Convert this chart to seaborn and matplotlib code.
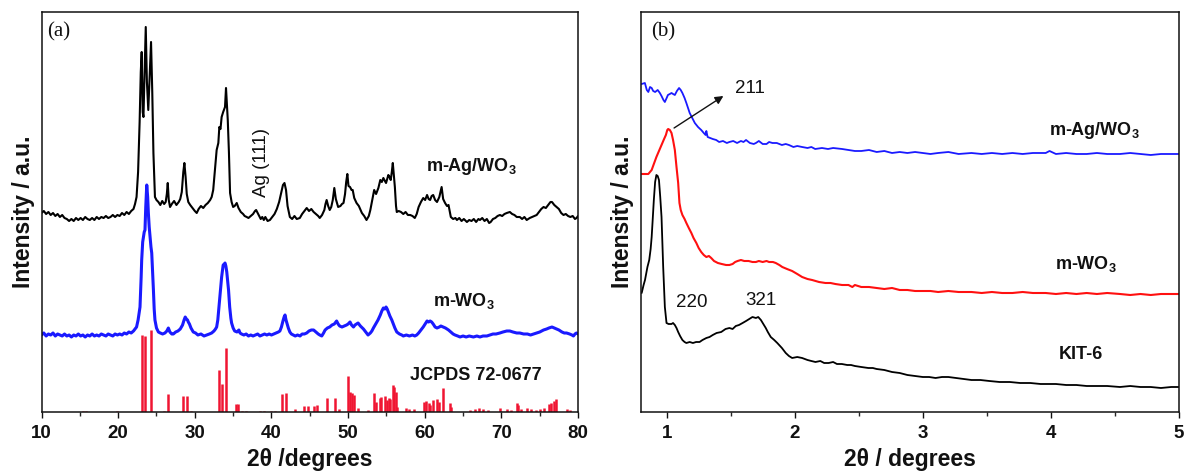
import numpy as np
import pandas as pd
import matplotlib
matplotlib.use("Agg")
import matplotlib.pyplot as plt
from matplotlib.ticker import MultipleLocator
import seaborn as sns

# ---------------- (a) wide-angle XRD ----------------
ag_wo3_tt = [10.0, 10.3, 10.6, 10.9, 11.2, 11.5, 11.8, 12.1, 12.4, 12.7, 13.0, 13.3, 13.6, 13.9, 14.2, 14.5,
             14.8, 15.1, 15.4, 15.7, 16.0, 16.3, 16.6, 16.9, 17.2, 17.5, 17.8, 18.1, 18.4, 18.7, 19.0, 19.3,
             19.6, 19.9, 20.2, 20.5, 20.8, 21.1, 21.4, 21.7, 22.0, 22.2, 22.4, 22.6, 22.8, 22.95, 23.07, 23.2,
             23.3, 23.45, 23.6, 23.75, 23.93, 24.1, 24.29, 24.45, 24.6, 24.8, 25.0, 25.25, 25.5, 25.75, 26.0,
             26.2, 26.35, 26.47, 26.6, 26.77, 27.0, 27.3, 27.6, 27.9, 28.1, 28.3, 28.5, 28.64, 28.8, 28.95,
             29.15, 29.4, 29.7, 30.0, 30.25, 30.5, 30.8, 31.1, 31.4, 31.7, 32.0, 32.2, 32.4, 32.6, 32.85, 33.07,
             33.2, 33.35, 33.5, 33.7, 33.94, 34.07, 34.2, 34.3, 34.45, 34.6, 34.8, 35.0, 35.2, 35.47, 35.7,
             36.0, 36.3, 36.5, 36.77, 37.0, 37.3, 37.6, 37.85, 38.0, 38.2, 38.4, 38.6, 38.8, 39.0, 39.2, 39.5,
             39.8, 40.1, 40.4, 40.7, 41.0, 41.3, 41.5, 41.7, 41.9, 42.1, 42.4, 42.7, 43.0, 43.3, 43.7, 44.0,
             44.3, 44.6, 44.9, 45.2, 45.5, 45.8, 46.1, 46.3, 46.6, 46.9, 47.05, 47.2, 47.4, 47.6, 47.8, 48.0,
             48.2, 48.4, 48.7, 49.0, 49.2, 49.4, 49.6, 49.75, 49.9, 50.05, 50.25, 50.45, 50.6, 50.8, 51.1,
             51.4, 51.8, 52.1, 52.4, 52.7, 52.9, 53.1, 53.4, 53.65, 53.95, 54.2, 54.4, 54.6, 54.8, 54.95, 55.1,
             55.25, 55.4, 55.56, 55.7, 55.83, 55.95, 56.1, 56.25, 56.35, 56.6, 56.9, 57.2, 57.5, 57.8, 58.1,
             58.4, 58.7, 58.95, 59.2, 59.5, 59.8, 60.05, 60.3, 60.5, 60.7, 60.9, 61.1, 61.35, 61.6, 61.9, 62.05,
             62.2, 62.4, 62.65, 62.9, 63.1, 63.4, 63.7, 64.0, 64.2, 64.5, 64.8, 65.1, 65.5, 65.8, 66.1, 66.4,
             66.7, 67.0, 67.2, 67.5, 67.8, 68.1, 68.4, 68.6, 68.9, 69.2, 69.5, 69.8, 70.1, 70.4, 70.7, 71.1,
             71.4, 71.7, 72.0, 72.4, 72.7, 73.0, 73.3, 73.7, 74.0, 74.3, 74.6, 74.9, 75.2, 75.5, 75.8, 76.1,
             76.4, 76.6, 76.9, 77.2, 77.5, 77.8, 78.1, 78.4, 78.7, 79.0, 79.3, 79.6, 79.8, 80.0]
ag_wo3_int = [199, 201, 198, 200, 197, 199, 196, 198, 195, 197, 194, 193, 191, 193, 191, 194,
              192, 194, 192, 195, 193, 192, 194, 192, 195, 193, 195, 194, 196, 194, 195, 197,
              195, 197, 196, 199, 197, 200, 198, 201, 203, 208, 215, 240, 290, 340, 360, 300,
              295, 340, 385, 330, 302, 335, 370, 320, 259, 215, 212, 210, 207, 211, 208,
              210, 218, 229, 212, 205, 208, 211, 207, 210, 213, 220, 240, 249, 235, 218,
              210, 207, 204, 201, 199, 203, 206, 204, 207, 209, 212, 215, 222, 240, 262, 269,
              285, 283, 295, 300, 305, 324, 305, 292, 260, 219, 210, 205, 206, 209, 204,
              200, 198, 196, 195, 194, 196, 198, 201, 202, 199, 196, 193, 195, 192, 195, 191,
              192, 195, 198, 203, 210, 220, 227, 229, 222, 206, 195, 193, 196, 193, 194, 198,
              201, 204, 201, 203, 200, 198, 196, 194, 197, 202, 208, 212, 206, 202, 205, 212,
              224, 213, 205, 206, 208, 209, 218, 230, 238, 226, 225, 222, 222, 214, 209,
              206, 199, 196, 192, 196, 202, 210, 222, 218, 224, 232, 230, 234, 231, 229, 233,
              237, 235, 232, 240, 249, 238, 225, 206, 200, 201, 200, 198, 200, 197, 197,
              196, 194, 198, 205, 210, 214, 212, 217, 213, 212, 216, 217, 212, 210, 215, 220,
              225, 213, 209, 206, 207, 195, 193, 194, 192, 194, 191, 193, 190, 192, 191, 193,
              190, 193, 192, 194, 191, 193, 189, 190, 193, 194, 196, 197, 196, 198, 199, 200,
              198, 197, 195, 195, 193, 195, 192, 194, 195, 196, 197, 200, 203, 205, 204, 207,
              210, 210, 207, 205, 203, 199, 197, 198, 196, 195, 196, 193, 194, 196]

wo3_tt = [10.0, 10.3, 10.6, 10.9, 11.2, 11.5, 11.8, 12.1, 12.4, 12.7, 13.0, 13.3, 13.6, 13.9, 14.2, 14.5,
          14.8, 15.1, 15.4, 15.7, 16.0, 16.3, 16.6, 16.9, 17.2, 17.5, 17.8, 18.1, 18.4, 18.7, 19.0, 19.3,
          19.6, 19.9, 20.2, 20.5, 20.8, 21.1, 21.4, 21.7, 22.0, 22.2, 22.4, 22.6, 22.85, 23.0, 23.07, 23.2,
          23.3, 23.4, 23.5, 23.6, 23.73, 23.85, 23.94, 24.05, 24.16, 24.28, 24.38, 24.5, 24.6, 24.7, 24.8,
          25.0, 25.25, 25.5, 25.8, 26.1, 26.35, 26.55, 26.75, 27.0, 27.2, 27.5, 27.8, 28.1, 28.4, 28.6,
          28.75, 28.9, 29.05, 29.15, 29.3, 29.5, 29.8, 30.1, 30.4, 30.8, 31.2, 31.55, 31.9, 32.2, 32.5,
          32.7, 32.85, 33.0, 33.15, 33.3, 33.5, 33.7, 33.85, 33.94, 34.05, 34.17, 34.3, 34.4, 34.55, 34.7,
          34.8, 35.0, 35.2, 35.5, 35.75, 35.9, 36.1, 36.4, 36.7, 37.0, 37.3, 37.6, 37.9, 38.2, 38.5, 38.8,
          39.1, 39.4, 39.7, 40.0, 40.3, 40.6, 40.9, 41.1, 41.3, 41.5, 41.65, 41.77, 41.9, 42.05, 42.2, 42.4,
          42.6, 42.85, 43.1, 43.4, 43.73, 44.0, 44.3, 44.6, 44.9, 45.2, 45.5, 45.8, 46.1, 46.3, 46.56, 46.8,
          47.0, 47.3, 47.6, 47.9, 48.2, 48.5, 48.7, 48.9, 49.2, 49.5, 49.8, 50.0, 50.25, 50.45, 50.7, 50.9,
          51.1, 51.3, 51.6, 52.0, 52.3, 52.6, 52.9, 53.1, 53.3, 53.6, 53.9, 54.2, 54.4, 54.6, 54.8, 54.95,
          55.1, 55.25, 55.45, 55.7, 55.9, 56.1, 56.35, 56.7, 57.0, 57.2, 57.6, 58.0, 58.4, 58.7, 58.95, 59.2,
          59.5, 59.8, 60.05, 60.3, 60.5, 60.7, 60.9, 61.1, 61.35, 61.6, 61.9, 62.1, 62.4, 62.7, 63.1, 63.4,
          63.7, 63.95, 64.3, 64.6, 65.0, 65.4, 65.8, 66.35, 66.8, 67.2, 67.6, 68.1, 68.5, 68.9, 69.3, 69.8,
          70.2, 70.7, 71.1, 71.5, 72.0, 72.4, 72.9, 73.4, 73.8, 74.2, 74.6, 75.0, 75.5, 75.9, 76.2, 76.6,
          76.9, 77.2, 77.5, 77.9, 78.2, 78.5, 78.9, 79.2, 79.4, 79.6, 79.8, 80.0]
wo3_int = [77, 79, 76, 78, 77, 79, 76, 78, 77, 76, 78, 76, 77, 75, 77, 76,
           78, 76, 77, 75, 77, 76, 78, 76, 77, 76, 78, 77, 76, 78, 77, 76,
           78, 77, 78, 77, 79, 78, 80, 79, 81, 83, 85, 92, 105, 135, 152, 170,
           175, 180, 182, 205, 227, 215, 199, 185, 175, 165, 159, 140, 122, 103, 92,
           84, 80, 79, 78, 79, 81, 84, 80, 78, 78, 80, 81, 83, 87, 92,
           95, 93, 92, 90, 88, 84, 80, 79, 77, 78, 76, 77, 78, 79, 81,
           83, 85, 92, 105, 119, 135, 147, 148, 149, 146, 140, 130, 122, 105, 94,
           89, 84, 81, 80, 82, 79, 78, 77, 78, 76, 77, 76, 77, 78, 76, 77,
           78, 77, 78, 77, 78, 79, 80, 81, 85, 91, 95, 97, 92, 88, 84, 80,
           78, 77, 76, 77, 76, 78, 78, 79, 81, 82, 82, 80, 78, 77, 76, 79,
           82, 84, 85, 87, 88, 91, 88, 86, 85, 86, 87, 88, 90, 87, 85, 87,
           88, 89, 86, 83, 80, 77, 79, 81, 84, 88, 92, 97, 101, 104, 103, 105,
           103, 100, 96, 92, 88, 84, 80, 78, 77, 76, 77, 76, 77, 76, 77, 79,
           82, 85, 88, 91, 90, 91, 90, 88, 85, 84, 85, 86, 85, 84, 82, 80,
           78, 77, 76, 75, 76, 75, 76, 75, 76, 75, 76, 76, 77, 78, 78, 79,
           80, 81, 81, 80, 79, 79, 78, 78, 77, 78, 79, 80, 82, 83, 84, 85,
           84, 83, 82, 80, 79, 79, 78, 77, 76, 78, 79, 78]

# JCPDS 72-0677 reference reflections
ref_tt = [15.4, 15.8, 19.9, 23.07, 23.5, 24.29, 26.0, 26.55, 28.5, 28.95, 29.5, 33.2, 33.5, 34.07, 35.4,
          35.7, 36.2, 36.7, 38.5, 39.0, 40.0, 40.5, 41.42, 41.9, 43.1, 44.2, 44.8, 45.5, 45.9, 47.2, 48.3,
          48.8, 49.95, 50.25, 50.47, 50.77, 51.3, 52.6, 53.4, 53.65, 54.1, 54.25, 54.8, 55.04, 55.3, 55.45,
          55.83, 56.03, 56.2, 56.4, 57.6, 58.0, 58.6, 59.9, 60.2, 60.5, 60.7, 61.04, 61.65, 61.9, 62.35,
          63.3, 63.45, 65.9, 66.5, 67.1, 67.6, 68.3, 69.8, 70.7, 71.2, 72.0, 72.2, 72.6, 73.4, 73.8, 74.5,
          75.1, 75.6, 76.2, 76.5, 76.8, 77.1, 78.6, 79.0]
ref_int = [1, 1.5, 1, 77, 76, 82, 1.5, 18, 16, 16, 1, 42, 28, 64, 8,
           8.5, 1.5, 1, 1, 1.5, 1, 1, 18, 19, 3, 6, 6, 6, 7, 14, 14,
           3, 36, 20, 19, 17, 4, 2, 19, 10, 14, 15, 16, 12, 14, 13,
           27, 25, 20, 5, 4, 3, 3, 10, 11, 9, 7, 12, 13, 10, 24,
           9, 5, 2, 3, 4, 3, 2, 4, 3, 2, 9, 7, 3, 4, 3, 2,
           3, 4, 8, 9, 11, 13, 3, 2]

# ---------------- (b) small-angle XRD ----------------
sa_ag_tt = [0.805, 0.83, 0.845, 0.857, 0.87, 0.883, 0.895, 0.91, 0.93, 0.947, 0.96, 0.975, 0.986, 1.0, 1.01,
            1.025, 1.038, 1.05, 1.064, 1.08, 1.097, 1.11, 1.123, 1.14, 1.154, 1.167, 1.18, 1.2, 1.22, 1.245,
            1.27, 1.29, 1.304, 1.31, 1.32, 1.34, 1.36, 1.387, 1.41, 1.44, 1.47, 1.49, 1.52, 1.55, 1.58, 1.6,
            1.62, 1.65, 1.68, 1.697, 1.72, 1.75, 1.78, 1.8, 1.826, 1.86, 1.9, 1.93, 1.955, 1.99, 2.02, 2.058,
            2.1, 2.13, 2.16, 2.213, 2.26, 2.3, 2.37, 2.42, 2.47, 2.52, 2.58, 2.64, 2.7, 2.76, 2.82, 2.88, 2.94,
            3.0, 3.06, 3.12, 3.2, 3.28, 3.38, 3.46, 3.54, 3.62, 3.7, 3.78, 3.86, 3.96, 3.99, 4.04, 4.12, 4.2,
            4.28, 4.36, 4.44, 4.54, 4.62, 4.7, 4.78, 4.86, 4.94, 5.0]
sa_ag_int = [328, 329, 322, 320, 325, 324, 321, 320, 322, 319, 316, 312, 310, 314, 317,
             318, 319, 318, 317, 321, 324, 322, 319, 314, 309, 304, 299, 294, 289, 285,
             282, 279, 277, 281, 275, 274, 273, 272, 270, 271, 269, 270, 271, 269, 271, 270,
             272, 269, 268, 269, 271, 268, 268, 270, 269, 269, 267, 268, 267, 265, 266, 265,
             264, 265, 263, 264, 263, 264, 263, 262, 261, 261, 262, 260, 261, 259, 260, 259, 260,
             259, 258, 259, 260, 258, 259, 258, 259, 258, 259, 258, 259, 259, 261, 258, 259, 258,
             258, 259, 258, 258, 259, 258, 257, 258, 258, 258]

sa_wo3_tt = [0.805, 0.83, 0.857, 0.87, 0.883, 0.9, 0.92, 0.94, 0.96, 0.98, 0.994, 1.005, 1.012, 1.025,
             1.038, 1.05, 1.064, 1.077, 1.09, 1.1, 1.11, 1.123, 1.14, 1.154, 1.173, 1.193, 1.21, 1.232,
             1.25, 1.27, 1.29, 1.31, 1.33, 1.348, 1.37, 1.40, 1.43, 1.464, 1.49, 1.515, 1.535, 1.554, 1.58,
             1.606, 1.64, 1.67, 1.697, 1.72, 1.75, 1.78, 1.80, 1.83, 1.852, 1.88, 1.903, 1.94, 1.98, 2.02,
             2.058, 2.1, 2.136, 2.19, 2.24, 2.28, 2.317, 2.37, 2.42, 2.45, 2.47, 2.52, 2.58, 2.64, 2.7,
             2.76, 2.82, 2.88, 2.94, 3.0, 3.06, 3.12, 3.2, 3.28, 3.38, 3.46, 3.54, 3.62, 3.7, 3.78, 3.86,
             3.96, 4.04, 4.12, 4.2, 4.28, 4.36, 4.44, 4.54, 4.62, 4.7, 4.78, 4.86, 4.94, 5.0]
sa_wo3_int = [238, 238, 238, 240, 242, 248, 255, 261, 267, 273, 277, 282, 283, 282,
              279, 272, 262, 245, 229, 209, 202, 197, 193, 189, 184, 179, 174, 169,
              164, 160, 157, 155, 156, 154, 151, 149, 148, 147, 147, 148, 150, 151, 152,
              151, 151, 150, 150, 151, 150, 151, 150, 150, 149, 147, 145, 143, 141, 138,
              135, 133, 132, 130, 129, 129, 128, 127, 127, 125, 127, 125, 125, 124, 123,
              124, 122, 122, 121, 121, 121, 120, 121, 120, 120, 119, 120, 119, 119, 120, 119,
              119, 118, 119, 118, 119, 118, 119, 118, 117, 118, 117, 118, 118, 118]

kit6_tt = [0.805, 0.82, 0.831, 0.85, 0.864, 0.875, 0.883, 0.89, 0.90, 0.91, 0.92, 0.93, 0.94, 0.95, 0.96,
           0.973, 0.986, 0.999, 1.015, 1.038, 1.05, 1.064, 1.077, 1.09, 1.105, 1.123, 1.14, 1.154, 1.18,
           1.205, 1.23, 1.257, 1.28, 1.31, 1.335, 1.36, 1.39, 1.426, 1.46, 1.49, 1.515, 1.54, 1.565, 1.593,
           1.62, 1.645, 1.67, 1.697, 1.715, 1.736, 1.755, 1.774, 1.79, 1.813, 1.84, 1.864, 1.9, 1.93, 1.955,
           1.98, 2.02, 2.058, 2.1, 2.13, 2.162, 2.2, 2.23, 2.265, 2.3, 2.33, 2.368, 2.41, 2.44, 2.47, 2.52,
           2.575, 2.61, 2.64, 2.7, 2.76, 2.82, 2.88, 2.94, 3.0, 3.05, 3.1, 3.15, 3.2, 3.26, 3.32, 3.38,
           3.45, 3.52, 3.6, 3.68, 3.76, 3.84, 3.92, 3.96, 4.04, 4.12, 4.2, 4.28, 4.36, 4.44, 4.54, 4.62,
           4.7, 4.78, 4.86, 4.94, 5.0]
kit6_int = [119, 127, 132, 145, 152, 163, 175, 190, 212, 230, 237, 236, 232, 215, 195,
            145, 105, 89, 88, 88, 89, 87, 84, 80, 76, 72, 70, 69, 70,
            69, 70, 70, 72, 74, 75, 77, 79, 80, 83, 84, 83, 86, 87, 89,
            91, 93, 95, 94, 95, 92, 88, 84, 80, 75, 72, 69, 64, 59, 56,
            54, 55, 54, 52, 51, 50, 51, 49, 49, 50, 48, 48, 47, 47, 46, 45,
            44, 44, 43, 42, 40, 39, 37, 36, 35, 35, 34, 35, 35, 34, 33, 32,
            32, 31, 30, 30, 29, 29, 28, 28, 28, 27, 27, 26, 26, 26, 25, 26,
            25, 25, 24, 25, 25]

# ---------------- style ----------------
sns.set_theme(style="white")
plt.rcParams["font.family"] = ["Liberation Sans", "DejaVu Sans"]
plt.rcParams["mathtext.fontset"] = "custom"
plt.rcParams["mathtext.rm"] = "Liberation Sans:bold"
plt.rcParams["mathtext.it"] = "Liberation Sans:bold"
plt.rcParams["mathtext.bf"] = "Liberation Sans:bold"

fig = plt.figure(figsize=(11.86, 4.74), dpi=100)
ax_a = fig.add_axes([0.035, 0.1308, 0.4524, 0.8439])
ax_b = fig.add_axes([0.5405, 0.1308, 0.4535, 0.8439])

LBL = dict(fontsize=13, fontweight="bold", color="#111111")


def style_axes(ax, xlim, major, minor, xlabel):
    ax.set_xlim(*xlim)
    ax.set_ylim(0, 400)
    ax.xaxis.set_major_locator(MultipleLocator(major))
    ax.xaxis.set_minor_locator(MultipleLocator(minor))
    ax.set_yticks([])
    ax.tick_params(axis="x", which="major", direction="out", length=4, width=1.0,
                   bottom=True, top=False, labelsize=13.5, pad=5, colors="#111111")
    ax.tick_params(axis="x", which="minor", direction="out", length=3, width=1.0,
                   bottom=True, top=False)
    for lab in ax.get_xticklabels():
        lab.set_fontweight("bold")
    for sp in ax.spines.values():
        sp.set_visible(True)
        sp.set_linewidth(1.1)
        sp.set_color("#111111")
    ax.set_xlabel(xlabel, fontsize=16.5, fontweight="bold", labelpad=5, color="#111111")
    ax.set_ylabel("Intensity / a.u.", fontsize=16.5, fontweight="bold", labelpad=5, color="#111111")
    ax.grid(False)


# ---- panel (a) ----
sns.lineplot(x=ag_wo3_tt, y=ag_wo3_int, ax=ax_a, color="black", lw=1.5, estimator=None)
sns.lineplot(x=wo3_tt, y=wo3_int, ax=ax_a, color="#1a1aff", lw=2.2, estimator=None)
ax_a.vlines(ref_tt, 0, ref_int, colors="#f01532", lw=1.8)
style_axes(ax_a, (10, 80), 10, 5, "2θ /degrees")
ax_a.text(0.010, 0.975, "(a)", transform=ax_a.transAxes, ha="left", va="top",
          fontsize=15, family=["Liberation Serif", "DejaVu Serif"], color="#111111")
ax_a.text(38.7, 249, "Ag (111)", rotation=90, ha="center", va="center", fontsize=13.5, color="#111111")
ax_a.text(60.2, 245, "m-Ag/WO$_3$", ha="left", va="center", **LBL)
ax_a.text(61.1, 111, "m-WO$_3$", ha="left", va="center", **LBL)
ax_a.text(58.1, 36.5, "JCPDS 72-0677", ha="left", va="center", **LBL)

# ---- panel (b) ----
sns.lineplot(x=sa_ag_tt, y=sa_ag_int, ax=ax_b, color="#1a1aff", lw=1.3, estimator=None)
sns.lineplot(x=sa_wo3_tt, y=sa_wo3_int, ax=ax_b, color="#ff1010", lw=1.5, estimator=None)
sns.lineplot(x=kit6_tt, y=kit6_int, ax=ax_b, color="black", lw=1.3, estimator=None)
style_axes(ax_b, (0.8, 5.0), 1, 0.5, "2θ / degrees")
ax_b.text(0.019, 0.975, "(b)", transform=ax_b.transAxes, ha="left", va="top",
          fontsize=15, family=["Liberation Serif", "DejaVu Serif"], color="#111111")
ax_b.annotate("", xy=(1.443, 316), xytext=(1.058, 284),
              arrowprops=dict(arrowstyle="-|>", color="#111111", lw=1.0, mutation_scale=12,
                              shrinkA=0, shrinkB=0))
ax_b.text(1.653, 323, "211", ha="center", va="center", fontsize=13.5, color="#111111")
ax_b.text(1.199, 109, "220", ha="center", va="center", fontsize=13.5, color="#111111")
ax_b.text(1.736, 111.5, "321", ha="center", va="center", fontsize=13.5, color="#111111")
ax_b.text(3.986, 281, "m-Ag/WO$_3$", ha="left", va="center", **LBL)
ax_b.text(4.03, 148, "m-WO$_3$", ha="left", va="center", **LBL)
ax_b.text(4.06, 57.5, "KIT-6", ha="left", va="center", **LBL)

fig.savefig("out.png", dpi=100, facecolor="white")
